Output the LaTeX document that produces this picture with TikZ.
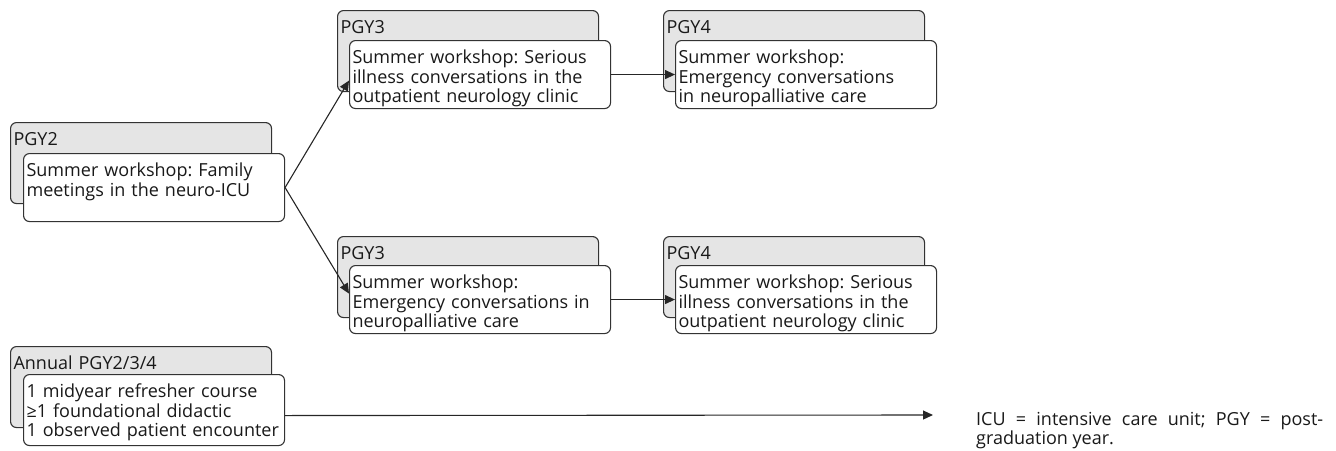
\documentclass[tikz,border=0pt]{standalone}
\usepackage{fontspec}
\setmainfont{Open Sans}
\usetikzlibrary{arrows.meta}
\usetikzlibrary{positioning}

\tikzset{
    yearbox/.style={draw=black!80, line width=1.1pt, fill=gray!20, rounded corners=6pt,
        anchor=north west, inner xsep=3pt, inner ysep=3pt, text width=255pt, align=left,
        text height=20pt, text depth=55pt},
    workshop/.style={draw=black!80, line width=1.1pt, fill=white, rounded corners=6pt,
        anchor=north west, inner xsep=3pt, inner ysep=3pt, text width=255pt, align=left,
        text height=20pt, text depth=42pt},
    link/.style={-{Triangle[length=10pt,width=9pt]}, line width=1.1pt, black!85},
}

\begin{document}
\frenchspacing
\begin{tikzpicture}[x=1pt, y=-1pt, font=\fontsize{18}{19.5}\selectfont, text=black!90]
    \useasboundingbox (0,0) rectangle (1336,450);

    % 1. PGY2 workshop on the left
    \node[yearbox] (p2year) at (10,122) {PGY2};
    \node[workshop] (p2) at (23,153) {Summer workshop: Family\\meetings in the neuro-ICU};

    % 2. Upper track: PGY3 then PGY4
    \node[yearbox] (p3upyear) at (337,10) {PGY3};
    \node[workshop] (p3up) at (349,40) {Summer workshop: Serious\\illness conversations in the\\outpatient neurology clinic};
    \node[yearbox] (p4upyear) at (663,10) {PGY4};
    \node[workshop] (p4up) at (675,40) {Summer workshop:\\Emergency conversations\\in neuropalliative care};

    % 3. Lower track: PGY3 then PGY4
    \node[yearbox] (p3downyear) at (337,236) {PGY3};
    \node[workshop] (p3down) at (349,265) {Summer workshop:\\Emergency conversations in\\neuropalliative care};
    \node[yearbox] (p4downyear) at (663,236) {PGY4};
    \node[workshop] (p4down) at (675,265) {Summer workshop: Serious\\illness conversations in the\\outpatient neurology clinic};

    % 4. Annual sessions for every year
    \node[yearbox] (annualyear) at (10,346) {Annual PGY2/3/4};
    \node[workshop, text depth=45pt] (annual) at (23,374) {1 midyear refresher course\\≥1 foundational didactic\\1 observed patient encounter};
    \coordinate (annualend) at (933,415);

    % 5. Arrows between the workshops
    \draw[link] (p2.east) -- ([yshift=-6pt]p3up.west);
    \draw[link] (p2.east) -- ([yshift=6pt]p3down.west);
    \draw[link] (p3up.east) -- (p4up.west);
    \draw[link] (p3down.east) -- (p4down.west);
    \draw[link] ([yshift=-5.5pt]annual.east) -- (annualend);

    % 6. Abbreviations
    \node[anchor=base west, inner sep=0pt, text width=347pt, align=justify] (legend) at (976,425)
        {ICU = intensive care unit; PGY = post-\linebreak graduation year.};
\end{tikzpicture}
\end{document}
